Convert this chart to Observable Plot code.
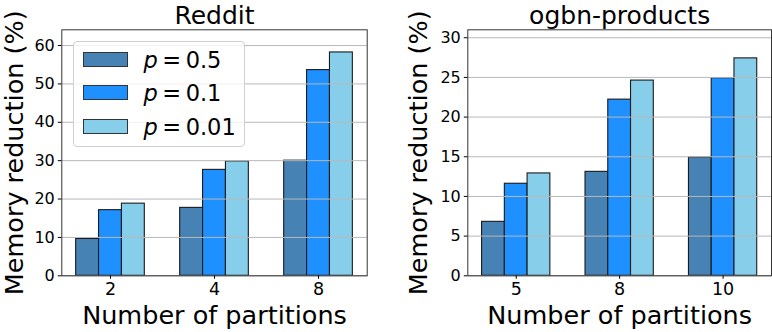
<!DOCTYPE html>
<html>
<head>
<meta charset="utf-8">
<script src="https://cdn.jsdelivr.net/npm/d3@7"></script>
<script src="https://cdn.jsdelivr.net/npm/@observablehq/plot@0.6"></script>
<style>
  html, body { margin: 0; padding: 0; background: #fff; }
  #wrap { position: relative; width: 772px; height: 332px; overflow: hidden; font-family: "DejaVu Sans", sans-serif; }
  .panel { position: absolute; top: 0; }
  .panel svg { overflow: visible; }
  .legend { position: absolute; left: 72.5px; top: 41px; width: 172px; height: 106px;
    background: rgba(255,255,255,0.8); border: 1px solid #d0d0d0; border-radius: 4px; box-sizing: border-box; }
  .legend .row { position: absolute; left: 9px; height: 16px; }
  .legend .sw { position: absolute; left: 0; top: 0; width: 45px; height: 15px; border: 1.2px solid #333; box-sizing: border-box; }
  .legend .lab { position: absolute; left: 61px; top: -7px; font-size: 22.5px; line-height: 30px; white-space: nowrap; color: #000; }
  .legend .lab i { font-family: "DejaVu Sans", sans-serif; font-style: oblique; }
</style>
</head>
<body>
<div id="wrap"></div>
<script>
// ---- data ----
const probabilities = ["0.5", "0.1", "0.01"];
const redditPartitions = ["2", "4", "8"];
const productsPartitions = ["5", "8", "10"];
const reddit_p05  = [9.6, 17.7, 30.0];
const reddit_p01  = [17.1, 27.6, 53.6];
const reddit_p001 = [18.8, 29.8, 58.2];
const products_p05  = [6.8, 13.1, 14.9];
const products_p01  = [11.6, 22.2, 24.9];
const products_p001 = [12.9, 24.6, 27.4];
const redditYTicks = [0, 10, 20, 30, 40, 50, 60];
const productsYTicks = [0, 5, 10, 15, 20, 25, 30];

// ---- chart ----
const colors = ["steelblue", "dodgerblue", "skyblue"];
const W = 0.22; // bar width in group units

function table(series) {
  const rows = [];
  series.forEach((vals, si) => vals.forEach((v, gi) => rows.push({gi, si, p: probabilities[si], value: v})));
  return rows;
}

function panel({title, partitions, series, yMax, yTicks, marginLeft, marginRight, yLabelOffset, left}) {
  const data = table(series);
  const plot = Plot.plot({
    width: 386,
    height: 332,
    marginLeft, marginRight,
    marginTop: 29.3,
    marginBottom: 56.7,
    style: {fontFamily: "DejaVu Sans, sans-serif", fontSize: "16px", color: "#000", background: "transparent", overflow: "visible"},
    x: {domain: [-0.468, 2.468]},
    y: {domain: [0, yMax]},
    color: {domain: probabilities, range: colors},
    marks: [
      Plot.rectY(data, {
        x1: d => d.gi + (d.si - 1) * W - W / 2,
        x2: d => d.gi + (d.si - 1) * W + W / 2,
        y: "value",
        fill: "p",
        stroke: "#1a1a1a",
        strokeWidth: 1.1
      }),
      Plot.gridY(yTicks, {stroke: "#b8b8b8", strokeOpacity: 1, strokeWidth: 1}),
      Plot.frame({stroke: "#333", strokeWidth: 1}),
      Plot.axisY(yTicks, {tickSize: 3.5, tickPadding: 3.5, label: "Memory reduction (%)", labelAnchor: "center", labelOffset: yLabelOffset, labelArrow: "none"}),
      Plot.axisX([0, 1, 2], {tickSize: 3.5, tickPadding: 3, tickFormat: i => partitions[i], label: "Number of partitions", labelAnchor: "center", labelOffset: 48, labelArrow: "none"}),
      Plot.text([title], {frameAnchor: "top", dy: -6, lineAnchor: "bottom", fontSize: 25, fill: "#000"})
    ]
  });
  // font sizes of the axis parts
  d3.select(plot).selectAll("g[aria-label]").each(function () {
    const a = this.getAttribute("aria-label");
    let fs = null;
    if (a === "y-axis label" || a === "x-axis label") fs = "25.5px";
    else if (a === "y-axis tick label") fs = "16px";
    else if (a === "x-axis tick label") fs = "17.5px";
    if (fs) {
      this.setAttribute("font-size", fs);
      this.style.setProperty("font-size", fs, "important");
      d3.select(this).selectAll("text").each(function () { this.setAttribute("font-size", fs); this.style.setProperty("font-size", fs, "important"); });
    }
  });
  const div = document.createElement("div");
  div.className = "panel";
  div.style.left = left + "px";
  div.appendChild(plot);
  document.getElementById("wrap").appendChild(div);
  return plot;
}

const p1 = panel({title: "Reddit", partitions: redditPartitions, series: [reddit_p05, reddit_p01, reddit_p001],
  yMax: 64.1, yTicks: redditYTicks, marginLeft: 61.3, marginRight: 19.3, yLabelOffset: 56.5, left: 0});
panel({title: "ogbn-products", partitions: productsPartitions, series: [products_p05, products_p01, products_p001],
  yMax: 31.0, yTicks: productsYTicks, marginLeft: 81.3, marginRight: 1, yLabelOffset: 58.5, left: 386});

// legend (inside the Reddit axes)
const color = p1.scale("color");
const leg = document.createElement("div");
leg.className = "legend";
probabilities.forEach((p, i) => {
  const row = document.createElement("div");
  row.className = "row";
  row.style.top = (10 + i * 33.3) + "px";
  const sw = document.createElement("div");
  sw.className = "sw";
  sw.style.background = color.apply(p);
  const lab = document.createElement("div");
  lab.className = "lab";
  lab.innerHTML = "<i>p</i>\u2009=\u20090." + p.slice(2);
  row.appendChild(sw); row.appendChild(lab);
  leg.appendChild(row);
});
document.getElementById("wrap").appendChild(leg);
</script>
</body>
</html>
